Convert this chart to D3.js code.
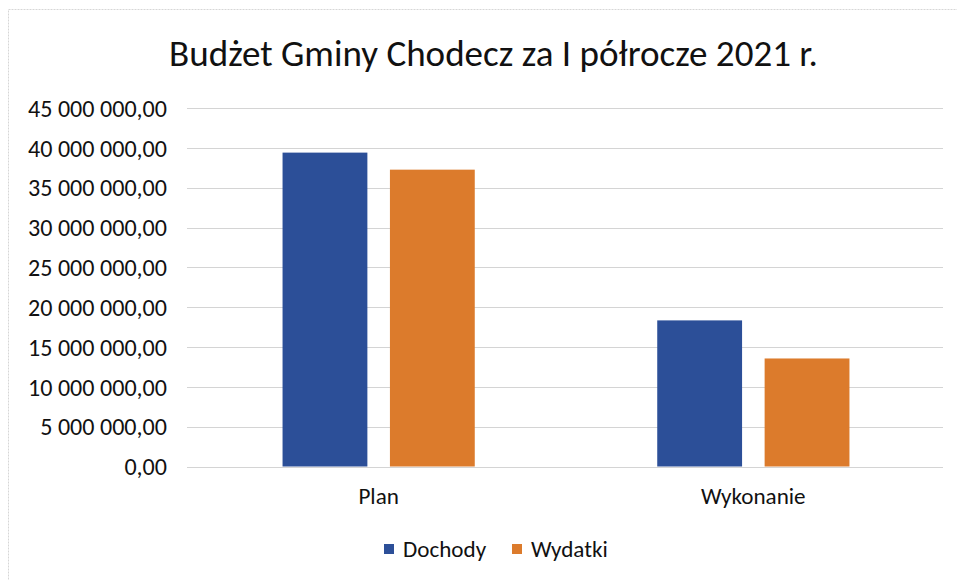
<!DOCTYPE html>
<html>
<head>
<meta charset="utf-8">
<script src="https://cdn.jsdelivr.net/npm/d3@7"></script>
<style>
  body { margin: 0; background: #fff; }
  text { font-family: Carlito, Calibri, Lato, sans-serif; fill: #111; }
</style>
</head>
<body>
<svg></svg>
<script>
// data
var categories = ['Plan', 'Wykonanie']
var series = ['Dochody', 'Wydatki']
var dochody = [39400000, 18340000]
var wydatki = [37260000, 13560000]
var yTicks = [0, 5000000, 10000000, 15000000, 20000000, 25000000, 30000000, 35000000, 40000000, 45000000]

var colors = {'Dochody': '#2c4f98', 'Wydatki': '#dc7b2c'}

var svgWidth = 957, svgHeight = 580
var svg = d3.select('svg')
    .attr('width', svgWidth)
    .attr('height', svgHeight)

// shrink/grow font so the text spans roughly what the picture shows
function fit(sel, target) {
    var node = sel.node()
    var size = parseFloat(sel.attr('font-size'))
    var w = node.getComputedTextLength()
    if (w > 0) sel.attr('font-size', size * target / w)
    return sel
}

// chart frame
svg.append('rect')
    .attr('x', 8.5).attr('y', 9.5)
    .attr('width', 960).attr('height', 600)
    .attr('fill', 'none')
    .attr('stroke', '#d6d6d6')
    .attr('stroke-dasharray', '2,1')

var plot = {left: 187, right: 943, top: 108, bottom: 466.5}

var y = d3.scaleLinear()
    .domain([0, 45000000])
    .range([plot.bottom, plot.top])

var x0 = d3.scaleBand()
    .domain(categories)
    .range([190, 942])
    .paddingInner(0.487)
    .paddingOuter(0.247)

var x1 = d3.scaleBand()
    .domain(series)
    .range([0, x0.bandwidth()])
    .paddingInner(0.21)

var pl = d3.formatLocale({decimal: ',', thousands: ' ', grouping: [3], currency: ['', '']})
var fmt = pl.format(',.2f')

// gridlines
svg.append('g')
    .selectAll('line')
    .data(yTicks)
    .enter()
    .append('line')
    .attr('x1', plot.left).attr('x2', plot.right)
    .attr('y1', function(d) { return Math.round(y(d)) + 0.5 })
    .attr('y2', function(d) { return Math.round(y(d)) + 0.5 })
    .attr('stroke', '#d4d4d4')
    .attr('stroke-width', 1)

// y axis labels
var yAxis = svg.append('g')
    .attr('transform', 'translate(167,0)')
    .call(d3.axisLeft(y).tickValues(yTicks).tickFormat(fmt).tickSize(0).tickPadding(0))
yAxis.select('.domain').remove()
yAxis.selectAll('text')
    .attr('font-size', 21)
    .attr('dy', '0.34em')
    .style('font-family', 'Carlito, Calibri, Lato, sans-serif')
    .attr('fill', '#111')

// bars
var rows = categories.map(function(c, i) {
    return {category: c, values: [{key: 'Dochody', value: dochody[i]}, {key: 'Wydatki', value: wydatki[i]}]}
})

var groups = svg.append('g')
    .selectAll('g')
    .data(rows)
    .enter()
    .append('g')
    .attr('transform', function(d) { return 'translate(' + x0(d.category) + ',0)' })

groups.selectAll('rect')
    .data(function(d) { return d.values })
    .enter()
    .append('rect')
    .attr('x', function(d) { return x1(d.key) })
    .attr('y', function(d) { return y(d.value) })
    .attr('width', x1.bandwidth())
    .attr('height', function(d) { return y(0) - y(d.value) })
    .attr('fill', function(d) { return colors[d.key] })

// x axis labels
var xAxis = svg.append('g')
    .attr('transform', 'translate(0,' + plot.bottom + ')')
    .call(d3.axisBottom(x0).tickSize(0).tickPadding(0))
xAxis.select('.domain').remove()
xAxis.selectAll('text')
    .attr('font-size', 20)
    .attr('y', 37)
    .attr('dy', 0)
    .style('font-family', 'Carlito, Calibri, Lato, sans-serif')
    .attr('fill', '#111')

// title
var title = svg.append('text')
    .attr('x', 493.5)
    .attr('y', 66)
    .attr('text-anchor', 'middle')
    .attr('font-size', 33)
    .text('Budżet Gminy Chodecz za I półrocze 2021 r.')
fit(title, 649)

// y labels: first label width in picture ~139px
var first = yAxis.selectAll('text').filter(function(d) { return d === 45000000 })
var ys = 21 * 139 / first.node().getComputedTextLength()
yAxis.selectAll('text').attr('font-size', ys)

var xs = 20 * 40.5 / xAxis.selectAll('text').filter(function(d) { return d === 'Plan' }).node().getComputedTextLength()
xAxis.selectAll('text').attr('font-size', xs)

// legend
var legendX = [384, 512]
var legend = svg.append('g')
    .selectAll('g')
    .data(series)
    .enter()
    .append('g')
    .attr('transform', function(d, i) { return 'translate(' + legendX[i] + ',544)' })

legend.append('rect')
    .attr('width', 10).attr('height', 10)
    .attr('fill', function(d) { return colors[d] })

legend.append('text')
    .attr('x', 19)
    .attr('y', 13)
    .attr('font-size', xs)
    .text(function(d) { return d })
</script>
</body>
</html>
